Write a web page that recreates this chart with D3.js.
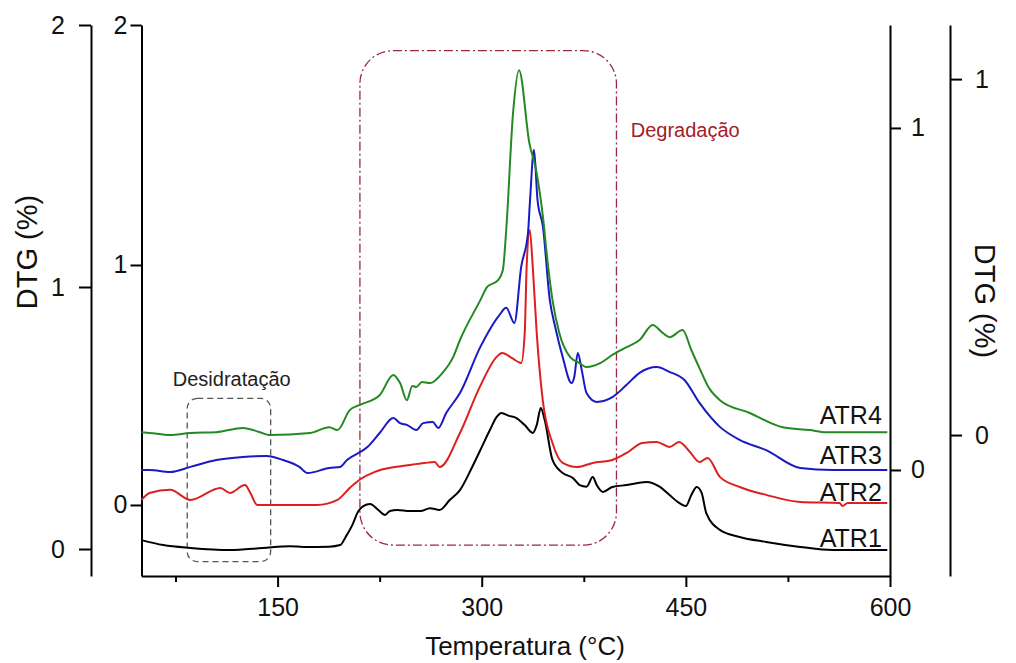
<!DOCTYPE html>
<html>
<head>
<meta charset="utf-8">
<script src="https://cdn.jsdelivr.net/npm/d3@7"></script>
<style>
  body { margin: 0; background: #fff; }
  text { font-family: Arial, "Liberation Sans", sans-serif; }
</style>
</head>
<body>
<div id="chart"></div>
<script>
// tick values
const xTicks = [150, 300, 450, 600];
const xMinorTicks = [75, 225, 375, 525];
const leftTicks = [0, 1, 2];
const rightTicks = [0, 1];

// [temperature °C, DTG %], each on its own axis
const atr1 = [[50,0.034],[66,0.015],[86,0.004],[115,-0.004],[139,0.004],[159,0.011],[169,0.008],[188,0.009],[196,0.015],[200,0.046],[205,0.092],[209,0.141],[213,0.164],[218,0.172],[224,0.149],[229,0.13],[232.5,0.145],[238,0.149],[247,0.145],[255,0.145],[262,0.156],[269,0.149],[276.5,0.187],[284,0.225],[293,0.313],[299,0.378],[306,0.454],[311,0.504],[314.5,0.519],[320,0.508],[325.5,0.5],[331.6,0.473],[337.5,0.443],[340.4,0.473],[343.4,0.538],[346.3,0.492],[352,0.34],[359.5,0.29],[367,0.271],[372,0.244],[377,0.238],[381.6,0.275],[384.5,0.244],[389,0.218],[396,0.237],[406.5,0.244],[421,0.256],[431,0.237],[438,0.206],[445,0.176],[450,0.164],[454,0.206],[458,0.237],[461.6,0.214],[465,0.137],[475,0.073],[489.5,0.046],[509,0.027],[534,0.008],[558,-0.004],[598,-0.004]];
const atr2 = [[50,0.021],[56,0.05],[71,0.063],[86,0.021],[108,0.071],[115,0.05],[126,0.083],[130,0.05],[135,0],[159,0],[179,0],[194,0.021],[203,0.071],[210,0.104],[221.5,0.138],[236,0.158],[247,0.167],[258,0.175],[265.5,0.179],[269,0.158],[284,0.3],[298.6,0.492],[311,0.617],[315,0.633],[322,0.613],[329,0.592],[331.6,0.717],[333,0.992],[335.3,1.146],[337.5,0.992],[340.4,0.717],[344.8,0.4375],[352,0.258],[359.5,0.175],[370,0.158],[381.6,0.175],[396,0.1875],[406.5,0.217],[418,0.258],[428.6,0.2625],[438,0.242],[445,0.2625],[453,0.221],[460,0.179],[466,0.196],[475,0.117],[489.5,0.075],[509,0.042],[534,0.0125],[563,0.008],[565,-0.004],[569,0.008],[598,0.008]];
const atr3 = [[50,0],[56,0],[71,-0.006],[86,0.009],[105,0.029],[124.5,0.038],[142,0.041],[154,0.029],[166,0.009],[172,-0.009],[188,0.006],[196,0.009],[201,0.029],[216,0.067],[225,0.108],[235,0.152],[240,0.137],[245,0.132],[252,0.117],[257,0.137],[264,0.14],[268,0.123],[274,0.167],[284,0.225],[299,0.36],[313,0.453],[318,0.474],[324,0.43],[329,0.594],[334,0.693],[335.5,0.789],[338.4,0.936],[341,0.789],[345,0.711],[350,0.497],[354,0.418],[359.5,0.33],[366,0.254],[368,0.272],[370.6,0.342],[373.5,0.292],[377,0.225],[384.5,0.199],[396,0.213],[406.5,0.249],[416,0.284],[428.6,0.301],[438,0.287],[449,0.263],[460,0.196],[475,0.126],[489.5,0.088],[509,0.058],[534,0.006],[558,0],[598,0]];
const atr4 = [[50,0.008],[56,0.006],[71,0],[86,0.006],[105,0.008],[124.5,0.02],[137,0.008],[144,0],[174,0.006],[188,0.022],[194,0.014],[203,0.07],[210,0.084],[225,0.112],[235,0.169],[240,0.146],[245,0.098],[249,0.138],[252,0.135],[256,0.149],[262,0.146],[271,0.174],[279,0.219],[284,0.267],[299,0.379],[304,0.416],[312,0.435],[315.5,0.463],[318,0.576],[323,0.904],[327.4,1.025],[335,0.82],[340,0.744],[345,0.612],[348.5,0.483],[352,0.379],[357,0.287],[365,0.219],[372,0.202],[377,0.191],[387,0.202],[396,0.225],[406.5,0.247],[416,0.267],[425.6,0.309],[433,0.287],[438,0.275],[447.6,0.295],[454,0.239],[460,0.188],[467,0.132],[475,0.098],[497,0.062],[521,0.022],[541,0.014],[553,0.008],[598,0.008]];

const width = 1016, height = 663;
const plotTop = 25, plotBottom = 576;

const svg = d3.select("#chart").append("svg")
  .attr("width", width)
  .attr("height", height);

const x = d3.scaleLinear().domain([50, 600]).range([141.5, 890]);

// one y scale per curve (each curve has its own axis)
const y1 = d3.scaleLinear().domain([-0.103, 2]).range([plotBottom, plotTop]);
const y2 = d3.scaleLinear().domain([-0.296, 2]).range([plotBottom, plotTop]);
const y3 = d3.scaleLinear().domain([-0.31, 1.301]).range([plotBottom, plotTop]);
const y4 = d3.scaleLinear().domain([-0.396, 1.152]).range([plotBottom, plotTop]);

const fmt = d3.format("d");

function styleAxis(g, size) {
  g.select(".domain").attr("stroke", "#000").attr("stroke-width", 2);
  g.selectAll(".tick line").attr("stroke", "#000").attr("stroke-width", 2);
  g.selectAll(".tick text").attr("font-size", size).attr("fill", "#111")
    .style("font-family", "Arial, 'Liberation Sans', sans-serif");
}

// x axis
svg.append("g")
  .attr("transform", `translate(0,${plotBottom})`)
  .call(d3.axisBottom(x).tickValues(xMinorTicks).tickSize(6).tickSizeOuter(0).tickFormat(""))
  .call(g => { styleAxis(g, 25); g.select(".domain").remove(); });

svg.append("g")
  .attr("transform", `translate(0,${plotBottom})`)
  .call(d3.axisBottom(x).tickValues(xTicks).tickFormat(fmt).tickSize(11).tickPadding(11).tickSizeOuter(0))
  .call(g => styleAxis(g, 25));

// left axes
svg.append("g")
  .attr("transform", "translate(91,0)")
  .call(d3.axisLeft(y1).tickValues(leftTicks).tickFormat(fmt).tickSize(12).tickPadding(14).tickSizeOuter(0))
  .call(g => styleAxis(g, 25));

svg.append("g")
  .attr("transform", "translate(141.5,0)")
  .call(d3.axisLeft(y2).tickValues(leftTicks).tickFormat(fmt).tickSize(11).tickPadding(3).tickSizeOuter(0))
  .call(g => styleAxis(g, 25));

// right axes
svg.append("g")
  .attr("transform", "translate(890,0)")
  .call(d3.axisRight(y3).tickValues(rightTicks).tickFormat(fmt).tickSize(11).tickPadding(10).tickSizeOuter(0))
  .call(g => styleAxis(g, 25));

svg.append("g")
  .attr("transform", "translate(950,0)")
  .call(d3.axisRight(y4).tickValues(rightTicks).tickFormat(fmt).tickSize(12).tickPadding(13).tickSizeOuter(0))
  .call(g => styleAxis(g, 25));

// axis titles
svg.append("text")
  .attr("x", 525).attr("y", 655)
  .attr("text-anchor", "middle")
  .attr("font-size", 26).attr("fill", "#111")
  .text("Temperatura (°C)");

svg.append("text")
  .attr("transform", "translate(37,252) rotate(-90)")
  .attr("text-anchor", "middle")
  .attr("font-size", 29).attr("fill", "#111")
  .text("DTG (%)");

svg.append("text")
  .attr("transform", "translate(975,301) rotate(90)")
  .attr("text-anchor", "middle")
  .attr("font-size", 29).attr("fill", "#111")
  .text("DTG (%)");

// annotation boxes
svg.append("rect")
  .attr("x", x(83.6)).attr("y", y1(0.575))
  .attr("width", x(144.9) - x(83.6)).attr("height", y1(-0.048) - y1(0.575))
  .attr("rx", 10)
  .attr("fill", "none").attr("stroke", "#555").attr("stroke-width", 1.3)
  .attr("stroke-dasharray", "6,4");

svg.append("text")
  .attr("x", x(73)).attr("y", y1(0.622))
  .attr("font-size", 20).attr("fill", "#222")
  .text("Desidratação");

svg.append("rect")
  .attr("x", x(210.5)).attr("y", y1(1.902))
  .attr("width", x(399) - x(210.5)).attr("height", y1(0.015) - y1(1.902))
  .attr("rx", 33)
  .attr("fill", "none").attr("stroke", "#9a2a3c").attr("stroke-width", 1.3)
  .attr("stroke-dasharray", "9,3,2,3");

svg.append("text")
  .attr("x", x(409.5)).attr("y", y1(1.573))
  .attr("font-size", 20).attr("fill", "#a3202a")
  .text("Degradação");

// curves
const series = [
  { name: "ATR1", data: atr1, y: y1, color: "#000000", dy: -3 },
  { name: "ATR2", data: atr2, y: y2, color: "#dd1f1f", dy: -2 },
  { name: "ATR3", data: atr3, y: y3, color: "#1a1ac4", dy: -6 },
  { name: "ATR4", data: atr4, y: y4, color: "#238a23", dy: -8 }
];

series.forEach(s => {
  const line = d3.line()
    .x(d => x(d[0]))
    .y(d => s.y(d[1]))
    .curve(d3.curveMonotoneX);

  svg.append("path")
    .datum(s.data)
    .attr("d", line)
    .attr("fill", "none")
    .attr("stroke", s.color)
    .attr("stroke-width", 2)
    .attr("stroke-linejoin", "round");

  const last = s.data[s.data.length - 1];
  svg.append("text")
    .attr("x", x(594))
    .attr("y", s.y(last[1]) + s.dy)
    .attr("text-anchor", "end")
    .attr("font-size", 25).attr("fill", "#111")
    .text(s.name);
});
</script>
</body>
</html>
